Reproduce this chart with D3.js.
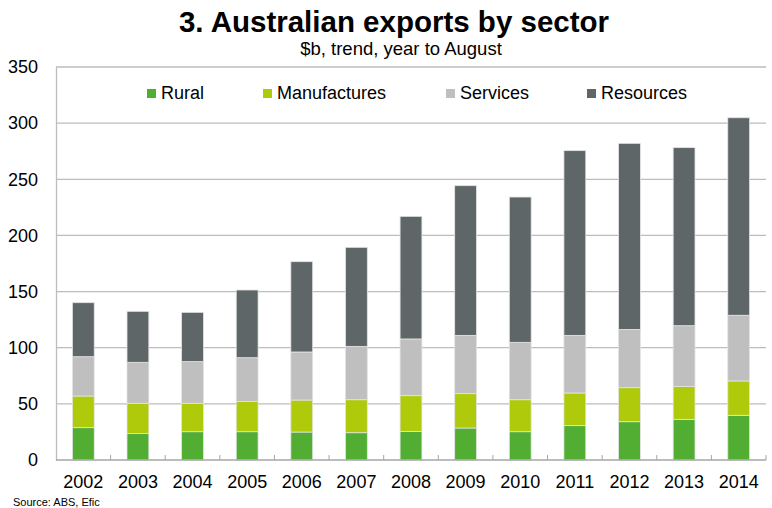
<!DOCTYPE html>
<html>
<head>
<meta charset="utf-8">
<script src="https://cdn.jsdelivr.net/npm/d3@7"></script>
<style>
  body { margin: 0; background: #fff; }
  text { font-family: "Liberation Sans", Arial, sans-serif; fill: #000; }
</style>
</head>
<body>
<div id="chart"></div>
<script>
const years = ["2002", "2003", "2004", "2005", "2006", "2007", "2008", "2009", "2010", "2011", "2012", "2013", "2014"];
const rural = [28.8, 23.5, 25.2, 25.2, 24.9, 24.3, 25.5, 28.5, 25.2, 30.6, 34.1, 36.2, 39.8];
const manufactures = [28.2, 27.0, 25.3, 26.8, 28.5, 29.4, 31.8, 30.6, 28.5, 29.1, 30.3, 29.4, 30.6];
const services = [35.0, 36.5, 37.1, 39.1, 42.8, 47.5, 50.5, 51.9, 51.1, 51.3, 51.9, 54.0, 58.5];
const resources = [48.1, 45.4, 43.9, 60.3, 80.4, 88.2, 109.2, 133.3, 129.4, 164.5, 165.7, 158.6, 175.9];
const seriesNames = ["Rural", "Manufactures", "Services", "Resources"];
const yTicks = [0, 50, 100, 150, 200, 250, 300, 350];

const colors = {
  Rural: "#52ae32",
  Manufactures: "#afca0b",
  Services: "#bfbfbf",
  Resources: "#5e6668"
};

const width = 772, height = 508;
const plot = { left: 56, right: 766, top: 67, bottom: 460 };

const table = years.map((y, i) => ({
  year: y,
  Rural: rural[i],
  Manufactures: manufactures[i],
  Services: services[i],
  Resources: resources[i]
}));

const svg = d3.select("#chart").append("svg")
  .attr("width", width)
  .attr("height", height);

const x = d3.scaleBand()
  .domain(years)
  .range([plot.left, plot.right])
  .paddingInner(0.6)
  .paddingOuter(0.3);

const y = d3.scaleLinear()
  .domain([0, 350])
  .range([plot.bottom, plot.top]);

// gridlines
svg.append("g")
  .selectAll("line")
  .data(yTicks.filter(d => d > 0))
  .enter()
  .append("line")
  .attr("x1", plot.left)
  .attr("x2", plot.right)
  .attr("y1", d => y(d))
  .attr("y2", d => y(d))
  .attr("stroke", "#bdbdbd")
  .attr("stroke-width", 1.3);

// y axis
const yAxis = svg.append("g")
  .attr("transform", `translate(${plot.left},0)`)
  .call(d3.axisLeft(y).tickValues(yTicks).tickSize(0).tickPadding(18));
yAxis.select(".domain").attr("stroke", "#bdbdbd").attr("stroke-width", 1.3);
yAxis.selectAll("text")
  .style("font-size", "18px")
  .attr("font-family", null);

// stacked bars
const stack = d3.stack().keys(seriesNames);
const layers = stack(table);

svg.append("g")
  .selectAll("g")
  .data(layers)
  .enter()
  .append("g")
  .attr("fill", d => colors[d.key])
  .selectAll("rect")
  .data(d => d)
  .enter()
  .append("rect")
  .attr("x", d => x(d.data.year))
  .attr("width", x.bandwidth())
  .attr("y", d => y(d[1]))
  .attr("height", d => y(d[0]) - y(d[1]))
  .attr("stroke", "#e4e4e4")
  .attr("stroke-width", 0.8);

// x axis
const step = x.step();
const xAxis = svg.append("g");
xAxis.append("line")
  .attr("x1", plot.left)
  .attr("x2", plot.right)
  .attr("y1", plot.bottom)
  .attr("y2", plot.bottom)
  .attr("stroke", "#a6a6a6")
  .attr("stroke-width", 1.3);

xAxis.selectAll(".tick-mark")
  .data(years)
  .enter()
  .append("line")
  .attr("class", "tick-mark")
  .attr("x1", d => x(d) + x.bandwidth() + (step - x.bandwidth()) / 2)
  .attr("x2", d => x(d) + x.bandwidth() + (step - x.bandwidth()) / 2)
  .attr("y1", plot.bottom)
  .attr("y2", plot.bottom - 5)
  .attr("stroke", "#a6a6a6")
  .attr("stroke-width", 1);

xAxis.selectAll(".x-label")
  .data(years)
  .enter()
  .append("text")
  .attr("class", "x-label")
  .attr("x", d => x(d) + x.bandwidth() / 2)
  .attr("y", 488)
  .attr("text-anchor", "middle")
  .style("font-size", "18px")
  .text(d => d);

// legend
const legendPos = [147, 263, 446, 587];
const legend = svg.append("g")
  .selectAll("g")
  .data(seriesNames)
  .enter()
  .append("g")
  .attr("transform", (d, i) => `translate(${legendPos[i]}, 89)`);

legend.append("rect")
  .attr("width", 9)
  .attr("height", 9)
  .attr("fill", d => colors[d]);

legend.append("text")
  .attr("x", 14)
  .attr("y", 9.5)
  .style("font-size", "18px")
  .text(d => d);

// titles
svg.append("text")
  .attr("x", 394)
  .attr("y", 32)
  .attr("text-anchor", "middle")
  .style("font-size", "29.5px")
  .style("font-weight", "bold")
  .text("3. Australian exports by sector");

svg.append("text")
  .attr("x", 401)
  .attr("y", 55)
  .attr("text-anchor", "middle")
  .style("font-size", "18.5px")
  .text("$b, trend, year to August");

svg.append("text")
  .attr("x", 13)
  .attr("y", 506)
  .style("font-size", "11px")
  .text("Source: ABS, Efic");
</script>
</body>
</html>
